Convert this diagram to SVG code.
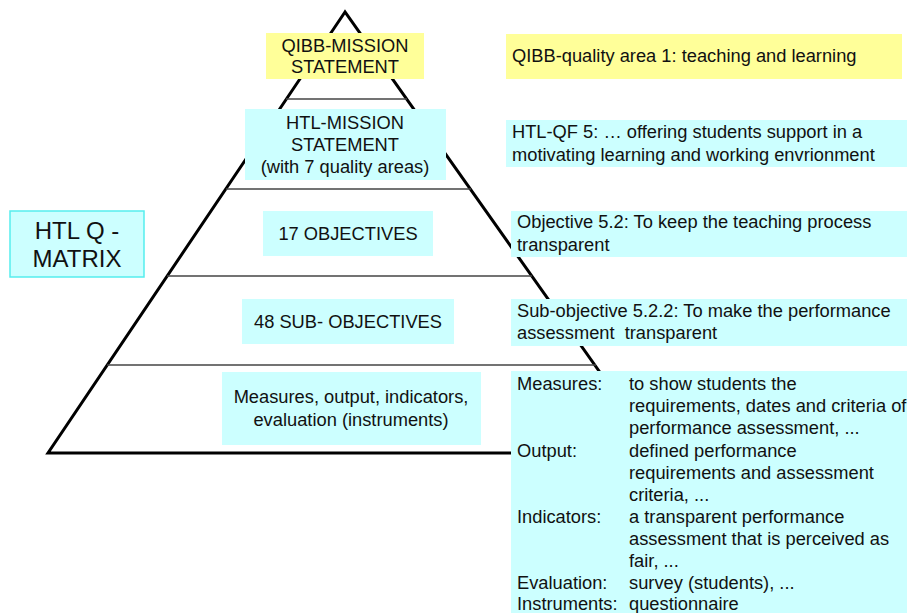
<svg xmlns="http://www.w3.org/2000/svg" width="907" height="613" viewBox="0 0 907 613">
<style>
  .t { font-family: "Liberation Sans", Arial, sans-serif; font-size: 18.3px; fill: #111; }
  .c { text-anchor: middle; }
  .big { font-size: 24px; }
  .yel { fill: #FFFF99; }
  .cy { fill: #CCFFFF; }
  .edge { fill: none; stroke: #000; stroke-width: 3; stroke-linejoin: miter; }
  .div { stroke: #444; stroke-width: 1.3; }
</style>
<rect width="907" height="613" fill="#fff"/>
<g id="pyramid">
  <polygon class="edge" points="345,12 48,453 657,453"/>
  <line class="div" x1="286" y1="99" x2="407" y2="99"/>
  <line class="div" x1="226" y1="189" x2="471" y2="189"/>
  <line class="div" x1="167" y1="276" x2="532" y2="276"/>
  <line class="div" x1="107" y1="365" x2="596" y2="365"/>
</g>
<g id="matrix">
  <rect x="10" y="211" width="134" height="66" fill="#CCFFFF" stroke="#55EEEE" stroke-width="1.5"/>
  <text class="t c big" x="77" y="239">HTL Q -</text>
  <text class="t c big" x="77" y="267">MATRIX</text>
</g>
<g id="qibb-mission">
  <rect class="yel" x="266" y="33" width="158" height="46"/>
  <text class="t c" x="345" y="52">QIBB-MISSION</text>
  <text class="t c" x="345" y="73">STATEMENT</text>
</g>
<g id="htl-mission">
  <rect class="cy" x="245" y="109" width="201" height="71"/>
  <text class="t c" x="345" y="129">HTL-MISSION</text>
  <text class="t c" x="345" y="151">STATEMENT</text>
  <text class="t c" x="345" y="173">(with 7 quality areas)</text>
</g>
<g id="objectives">
  <rect class="cy" x="263" y="211" width="170" height="45"/>
  <text class="t c" x="348" y="240">17 OBJECTIVES</text>
</g>
<g id="sub-objectives">
  <rect class="cy" x="242" y="299" width="212" height="45"/>
  <text class="t c" x="348" y="328">48 SUB- OBJECTIVES</text>
</g>
<g id="measures">
  <rect class="cy" x="222" y="372" width="259" height="73"/>
  <text class="t c" x="351" y="403">Measures, output, indicators,</text>
  <text class="t c" x="351" y="426">evaluation (instruments)</text>
</g>
<g id="qibb-area">
  <rect class="yel" x="506" y="34" width="396" height="45"/>
  <text class="t" x="512" y="62">QIBB-quality area 1: teaching and learning</text>
</g>
<g id="htl-qf">
  <rect class="cy" x="506" y="120" width="401" height="47"/>
  <text class="t" x="512" y="138">HTL-QF 5: … offering students support in a</text>
  <text class="t" x="512" y="161">motivating learning and working envrionment</text>
</g>
<g id="objective-52">
  <rect class="cy" x="511" y="211" width="396" height="46"/>
  <text class="t" x="517" y="228">Objective 5.2: To keep the teaching process</text>
  <text class="t" x="517" y="251">transparent</text>
</g>
<g id="subobjective-522">
  <rect class="cy" x="511" y="299" width="396" height="47"/>
  <text class="t" x="517" y="317">Sub-objective 5.2.2: To make the performance</text>
  <text class="t" x="517" y="339" xml:space="preserve">assessment  transparent</text>
</g>
<g id="details">
  <rect class="cy" x="511" y="371" width="396" height="242"/>
  <text class="t" x="517" y="390">Measures:</text>
  <text class="t" x="629" y="390">to show students the</text>
  <text class="t" x="629" y="412">requirements, dates and criteria of</text>
  <text class="t" x="629" y="434">performance assessment, ...</text>
  <text class="t" x="517" y="457">Output:</text>
  <text class="t" x="629" y="457">defined performance</text>
  <text class="t" x="629" y="479">requirements and assessment</text>
  <text class="t" x="629" y="501">criteria, ...</text>
  <text class="t" x="517" y="523">Indicators:</text>
  <text class="t" x="629" y="523">a transparent performance</text>
  <text class="t" x="629" y="545">assessment that is perceived as</text>
  <text class="t" x="629" y="567">fair, ...</text>
  <text class="t" x="517" y="589">Evaluation:</text>
  <text class="t" x="629" y="589">survey (students), ...</text>
  <text class="t" x="517" y="610">Instruments:</text>
  <text class="t" x="629" y="610">questionnaire</text>
</g>
</svg>
